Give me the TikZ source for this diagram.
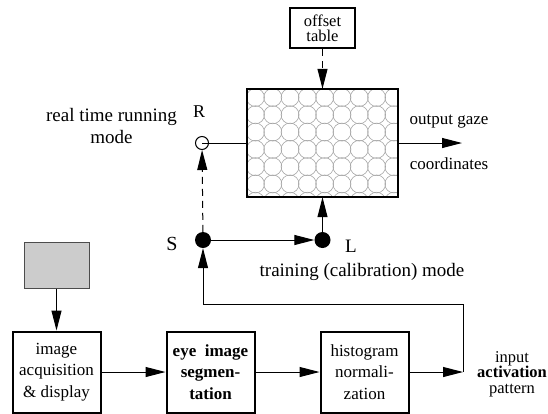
\documentclass[tikz,border=0pt]{standalone}
\usepackage{fontspec}
\setmainfont{Liberation Serif}
\usetikzlibrary{arrows.meta, positioning, calc}
\tikzstyle{stage} = [rectangle, draw=black, line width=2pt, minimum width=88pt, minimum height=81pt, inner sep=0pt, align=center, font=\fontsize{17}{21.5}\selectfont]
\tikzstyle{arrow} = [line width=1pt, -{Triangle[length=20pt,width=10pt]}]
\tikzstyle{dasharrow} = [arrow, dash pattern=on 7pt off 5pt]
\tikzstyle{switch} = [circle, fill=black, minimum size=16pt, inner sep=0pt]
\tikzstyle{note} = [font=\fontsize{19}{22}\selectfont, align=center, inner sep=0pt]

\begin{document}
\begin{tikzpicture}[x=1pt, y=-1pt]
\useasboundingbox (0,0) rectangle (548,413);

% Network
\node (net) [rectangle, minimum width=151pt, minimum height=108pt, inner sep=0pt] at (322.5,143) {};
\begin{scope}
\clip (net.north west) rectangle (net.south east);
\foreach \i in {0,...,8}
  \foreach \j in {0,...,6}
    \draw [gray!70, line width=0.6pt] ($(net.north west)+(8.65+17.3*\i, 8.65+17.3*\j)$) circle (9pt);
\end{scope}
\draw [line width=1.5pt] (net.north west) rectangle (net.south east);

% Offset table
\node (offset) [stage, minimum width=65pt, minimum height=40pt, font=\fontsize{16.5}{15}\selectfont, above=40pt of net] {offset\\table};

% Switch
\node (R) [circle, draw, line width=1pt, minimum size=13pt, inner sep=0pt] at (202,143) {};
\node (S) [switch] at (203,240) {};
\node (L) [switch] at (net.south |- S) {};
\node (Rtxt) [note, font=\fontsize{18}{20}\selectfont] at (199,112) {R};
\node (Stxt) [note, font=\fontsize{20}{22}\selectfont] at (172,244) {S};
\node (Ltxt) [note, font=\fontsize{19}{22}\selectfont] at (351,246) {L};
\node (run) [note] at (111.5,126) {real time running\\mode};
\node (train) [note] at (362,272) {training (calibration) mode};

% Output
\coordinate (out) at (462,143);
\node (gaze) [note, font=\fontsize{17}{20}\selectfont] at (449,122) {output gaze};
\node (coord) [note, font=\fontsize{17}{20}\selectfont] at (449,164) {coordinates};

% Processing chain
\node (acq) [stage] at (56.5,372) {image\\acquisition\\\& display};
\node (cam) [rectangle, draw=black!70, fill=gray!40, line width=1pt, minimum width=65pt, minimum height=46pt, above=42pt of acq] {};
\node (seg) [stage, right=64pt of acq, font=\bfseries\fontsize{17}{21.5}\selectfont] {eye~~image\\segmen-\\tation};
\node (hist) [stage, right=64pt of seg] {histogram\\normali-\\zation};
\coordinate (inp) at (463,372);
\node (inptxt) [note, font=\fontsize{16.5}{15.5}\selectfont] at (512,374) {input\\\textbf{activation}\\pattern};

% Arrows
\draw [dasharrow] (offset) -- (net);
\draw [line width=1pt] (R.center) -- (net.west);
\draw [arrow] (net.east) -- (out);
\draw [dasharrow] (S) -- (R);
\draw [arrow] (S) -- (L);
\draw [arrow] (L) -- (L |- net.south);
\draw [arrow] (cam) -- (acq);
\draw [arrow] (acq) -- (seg);
\draw [arrow] (seg) -- (hist);
\draw [arrow] (hist) -- (inp);
\draw [arrow] (inp) -- ++(0,-68) -| (S);

\end{tikzpicture}
\end{document}
